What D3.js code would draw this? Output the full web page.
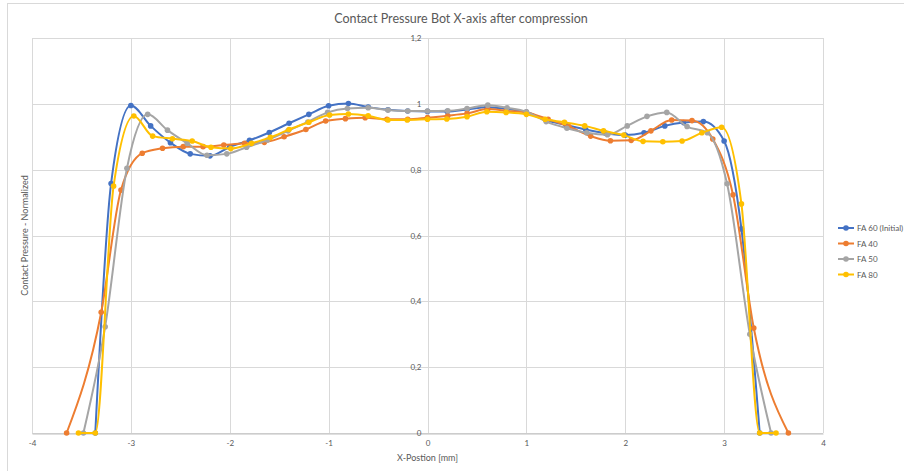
<!DOCTYPE html>
<html>
<head>
<meta charset="utf-8">
<script src="https://cdn.jsdelivr.net/npm/d3@7"></script>
<style>
  html, body { margin: 0; padding: 0; background: #fff; }
  svg { display: block; }
  text { font-family: Lato, "Open Sans", "Liberation Sans", sans-serif; fill: #595959; }
</style>
</head>
<body>
<svg id="chart" width="904" height="471"></svg>
<script>
// Contact pressure profiles along the bottom X-axis after compression
const seriesNames = ["FA 60 (Initial)", "FA 40", "FA 50", "FA 80"];
const seriesColors = ["#4472C4", "#ED7D31", "#A5A5A5", "#FFC000"];

const xFA60 = [-3.36, -3.2, -3.0, -2.8, -2.6, -2.4, -2.2, -2.0, -1.8, -1.6, -1.4, -1.2, -1.0, -0.8, -0.6, -0.4, -0.2, 0.0, 0.2, 0.4, 0.6, 0.8, 1.0, 1.2, 1.4, 1.6, 1.8, 2.0, 2.19, 2.4, 2.59, 2.79, 3.0, 3.175, 3.36];
const yFA60 = [0, 0.758, 0.995, 0.933, 0.882, 0.848, 0.842, 0.869, 0.889, 0.913, 0.941, 0.968, 0.994, 1.001, 0.990, 0.982, 0.978, 0.977, 0.977, 0.983, 0.990, 0.985, 0.975, 0.950, 0.936, 0.922, 0.911, 0.905, 0.912, 0.933, 0.943, 0.946, 0.887, 0.620, 0];

const xFA40 = [-3.65, -3.30, -3.10, -2.885, -2.68, -2.47, -2.27, -2.06, -1.85, -1.65, -1.45, -1.23, -1.03, -0.83, -0.63, -0.41, -0.2, 0.0, 0.205, 0.40, 0.61, 0.795, 1.0, 1.22, 1.43, 1.65, 1.85, 2.06, 2.26, 2.47, 2.675, 2.885, 3.09, 3.30, 3.65];
const yFA40 = [0, 0.367, 0.738, 0.850, 0.865, 0.870, 0.870, 0.875, 0.880, 0.883, 0.900, 0.922, 0.948, 0.955, 0.958, 0.953, 0.953, 0.958, 0.964, 0.971, 0.984, 0.979, 0.974, 0.953, 0.931, 0.902, 0.888, 0.889, 0.918, 0.951, 0.949, 0.893, 0.724, 0.319, 0];

const xFA50 = [-3.48, -3.26, -3.04, -2.83, -2.63, -2.43, -2.23, -2.03, -1.83, -1.62, -1.41, -1.21, -1.01, -0.81, -0.60, -0.40, -0.2, 0.0, 0.205, 0.40, 0.61, 0.805, 1.0, 1.2, 1.41, 1.61, 1.82, 2.02, 2.22, 2.42, 2.625, 2.83, 3.03, 3.26, 3.475];
const yFA50 = [0, 0.323, 0.804, 0.968, 0.920, 0.880, 0.844, 0.848, 0.868, 0.890, 0.918, 0.945, 0.974, 0.986, 0.988, 0.981, 0.978, 0.978, 0.979, 0.986, 0.996, 0.988, 0.976, 0.946, 0.926, 0.912, 0.906, 0.933, 0.962, 0.974, 0.931, 0.912, 0.757, 0.300, 0];

const xFA80 = [-3.53, -3.36, -3.175, -2.97, -2.78, -2.58, -2.38, -2.19, -1.99, -1.78, -1.59, -1.40, -1.20, -0.99, -0.80, -0.60, -0.40, -0.205, 0.0, 0.195, 0.40, 0.60, 0.795, 1.0, 1.19, 1.385, 1.59, 1.78, 1.985, 2.18, 2.38, 2.575, 2.775, 2.975, 3.175, 3.36, 3.525];
const yFA80 = [0, 0, 0.750, 0.963, 0.902, 0.894, 0.887, 0.868, 0.864, 0.880, 0.898, 0.922, 0.944, 0.966, 0.969, 0.964, 0.951, 0.951, 0.953, 0.954, 0.961, 0.976, 0.974, 0.968, 0.953, 0.944, 0.933, 0.918, 0.905, 0.886, 0.885, 0.887, 0.912, 0.929, 0.696, 0, 0];

const xTicks = [-4, -3, -2, -1, 0, 1, 2, 3, 4];
const yTicks = [0, 0.2, 0.4, 0.6, 0.8, 1.0, 1.2];

const titleText = "Contact Pressure Bot X-axis after compression";
const xTitle = "X-Postion [mm]";
const yTitle = "Contact Pressure - Normalized";

const seriesX = [xFA60, xFA40, xFA50, xFA80];
const seriesY = [yFA60, yFA40, yFA50, yFA80];
const series = seriesNames.map((name, i) => ({
  name,
  color: seriesColors[i],
  points: seriesX[i].map((x, j) => ({ x, y: seriesY[i][j] }))
}));

const svg = d3.select("#chart");
const plot = { left: 32, right: 823, top: 38, bottom: 433 };

const x = d3.scaleLinear().domain([-4, 4]).range([plot.left, plot.right]);
const y = d3.scaleLinear().domain([0, 1.2]).range([plot.bottom, plot.top]);

// chart frame
svg.append("rect")
  .attr("x", 7.5).attr("y", 3.5).attr("width", 1000).attr("height", 1000)
  .attr("fill", "none").attr("stroke", "#d9d9d9").attr("stroke-width", 1);

// title
svg.append("text")
  .attr("x", 461).attr("y", 23)
  .attr("text-anchor", "middle")
  .style("font-size", "12.5px")
  .text(titleText);

// gridlines
const grid = svg.append("g");
grid.selectAll("line.v").data(xTicks).join("line")
  .attr("x1", d => Math.round(x(d)) + 0.5).attr("x2", d => Math.round(x(d)) + 0.5)
  .attr("y1", plot.top).attr("y2", plot.bottom)
  .attr("stroke", "#d9d9d9").attr("stroke-width", 1);
grid.selectAll("line.h").data(yTicks).join("line")
  .attr("y1", d => Math.round(y(d)) + 0.5).attr("y2", d => Math.round(y(d)) + 0.5)
  .attr("x1", plot.left).attr("x2", plot.right)
  .attr("stroke", "#d9d9d9").attr("stroke-width", 1);

// x axis along y = 0
const xAxis = d3.axisBottom(x).tickValues(xTicks).tickSize(0).tickPadding(7)
  .tickFormat(d => String(d));
const gx = svg.append("g").attr("transform", `translate(0,${Math.round(y(0)) + 0.5})`).call(xAxis);
gx.select(".domain").attr("stroke", "#bfbfbf");
gx.selectAll("text").style("font-size", "8px").attr("fill", "#595959")
  .style("font-family", "Lato, sans-serif");

// y axis labels placed at x = 0
const yAxis = d3.axisLeft(y).tickValues(yTicks).tickSize(0).tickPadding(7)
  .tickFormat(d => d3.format(".1~f")(d).replace(".", ","));
const gy = svg.append("g").attr("transform", `translate(${Math.round(x(0)) + 0.5},0)`).call(yAxis);
gy.select(".domain").remove();
gy.selectAll("text").style("font-size", "8px").attr("fill", "#595959")
  .style("font-family", "Lato, sans-serif");

// axis titles
svg.append("text")
  .attr("x", x(0)).attr("y", 461)
  .attr("text-anchor", "middle").style("font-size", "9px")
  .text(xTitle);
svg.append("text")
  .attr("transform", `translate(28,${(plot.top + plot.bottom) / 2}) rotate(-90)`)
  .attr("text-anchor", "middle").style("font-size", "9px")
  .text(yTitle);

// series: smoothed lines with round markers
const line = d3.line()
  .x(d => x(d.x)).y(d => y(d.y))
  .curve(d3.curveMonotoneX);

const gs = svg.append("g").selectAll("g").data(series).join("g");
gs.append("path")
  .attr("d", d => line(d.points))
  .attr("fill", "none")
  .attr("stroke", d => d.color)
  .attr("stroke-width", 2)
  .attr("stroke-linejoin", "round");
gs.each(function (s) {
  d3.select(this).selectAll("circle").data(s.points).join("circle")
    .attr("cx", d => x(d.x)).attr("cy", d => y(d.y))
    .attr("r", 2.8)
    .attr("fill", s.color);
});

// legend
const legend = svg.append("g").attr("transform", "translate(838,228)");
const li = legend.selectAll("g").data(series).join("g")
  .attr("transform", (d, i) => `translate(0,${i * 15.5})`);
li.append("line").attr("x1", 0).attr("x2", 16).attr("y1", 0).attr("y2", 0)
  .attr("stroke", d => d.color).attr("stroke-width", 2);
li.append("circle").attr("cx", 8).attr("cy", 0).attr("r", 2.8).attr("fill", d => d.color);
li.append("text").attr("x", 19).attr("y", 3).style("font-size", "8px").text(d => d.name);
</script>
</body>
</html>
